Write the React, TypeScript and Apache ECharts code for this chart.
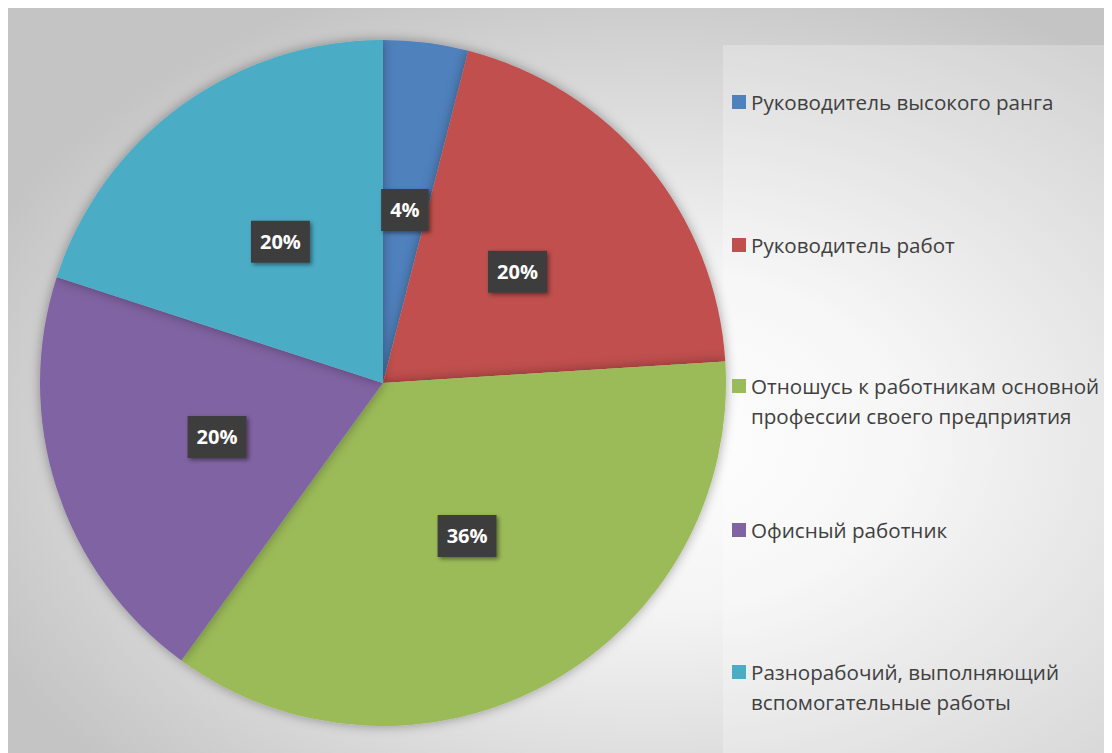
import React, { useEffect, useRef } from "react";
import * as echarts from "echarts";

const categories = [
  "Руководитель высокого ранга",
  "Руководитель работ",
  "Отношусь к работникам основной\nпрофессии своего предприятия",
  "Офисный работник",
  "Разнорабочий, выполняющий\nвспомогательные работы",
];
const values = [4, 20, 36, 20, 20];
const colors = ["#4f81bd", "#c0504d", "#9bbb59", "#8064a2", "#4bacc6"];

const FONT = "'Open Sans', 'DejaVu Sans', sans-serif";

export default function App() {
  const ref = useRef<HTMLDivElement>(null);
  useEffect(() => {
    if (!ref.current) return;
    const chart = echarts.init(ref.current, null, { renderer: "svg" });
    const legendTops = [74, 217, 328, 502, 614];
    const legends = categories.map((name, i) => {
      const twoLine = name.indexOf("\n") >= 0;
      return {
        show: true,
        orient: "vertical",
        left: 719,
        top: legendTops[i],
        itemWidth: 14,
        itemHeight: 14,
        icon: "rect",
        selectedMode: false,
        formatter: (n: string) => (twoLine ? "\n" + n : n),
        data: [{ name, itemStyle: { color: colors[i] } }],
        textStyle: {
          fontFamily: FONT,
          fontSize: 20.6,
          color: "#404040",
          lineHeight: 30,
        },
      };
    });
    chart.setOption({
      animation: false,
      backgroundColor: {
        type: "radial",
        x: 0.58,
        y: 0.58,
        r: 0.66,
        colorStops: [
          { offset: 0, color: "#ffffff" },
          { offset: 0.35, color: "#f4f4f4" },
          { offset: 1, color: "#c4c4c4" },
        ],
      },
      graphic: [
        {
          type: "rect",
          shape: { x: 715, y: 37, width: 382, height: 720 },
          style: { fill: "rgba(255,255,255,0.25)" },
          z: -1,
        },
      ],
      legend: legends,
      series: [
        {
          type: "pie",
          center: [375, 375],
          radius: [0, 343],
          startAngle: 90,
          clockwise: true,
          data: categories.map((name, i) => ({
            name,
            value: values[i],
            itemStyle: { color: colors[i] },
          })),
          itemStyle: {
            shadowBlur: 12,
            shadowColor: "rgba(0,0,0,0.35)",
          },
          label: {
            show: true,
            position: "inside",
            formatter: "{c}%",
            fontFamily: FONT,
            fontSize: 20,
            fontWeight: "bold",
            color: "#ffffff",
            backgroundColor: "#3d3d3d",
            padding: [9, 9, 7, 9],
            lineHeight: 26,
            shadowColor: "rgba(0,0,0,0.45)",
            shadowBlur: 4,
            shadowOffsetX: 2,
            shadowOffsetY: 2,
          },
          labelLine: { show: false },
          emphasis: { disabled: true },
        },
      ],
    });
    return () => chart.dispose();
  }, []);
  return <div ref={ref} style={{ width: 1104, height: 745 }} />;
}
